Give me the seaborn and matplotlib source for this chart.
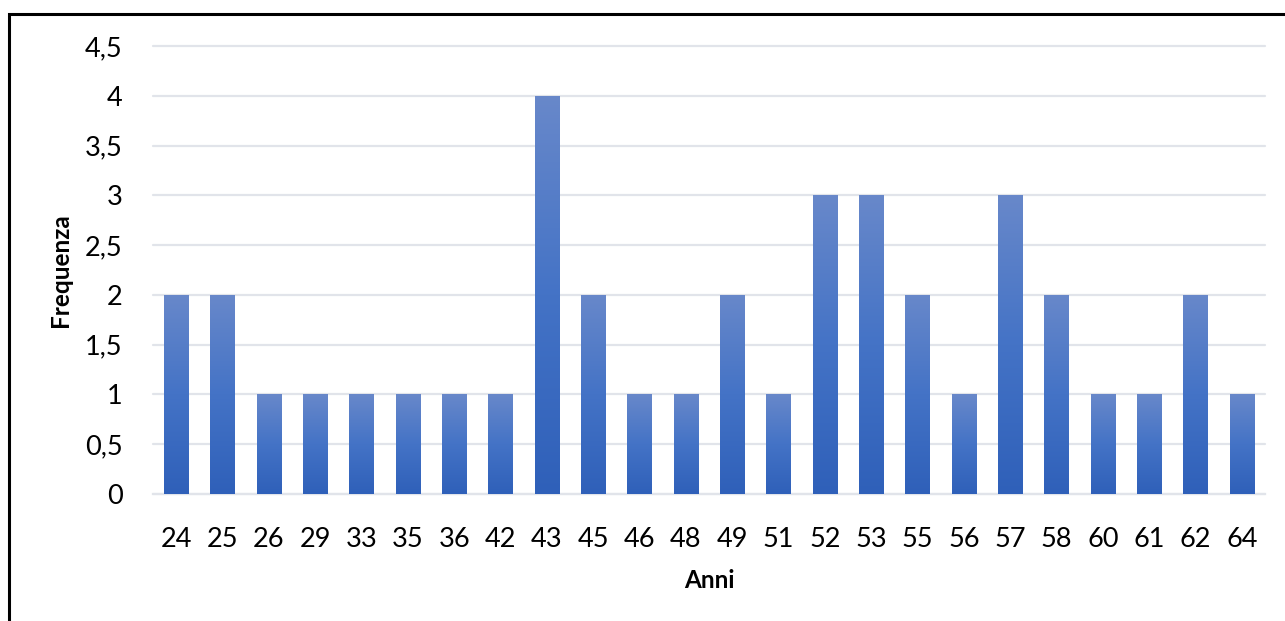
import numpy as np
import pandas as pd
import matplotlib
matplotlib.use("Agg")
import matplotlib.pyplot as plt
from matplotlib.colors import LinearSegmentedColormap
from matplotlib.patches import Rectangle
from matplotlib.ticker import FuncFormatter, MultipleLocator
import seaborn as sns

# Age values and how often each occurs
anni = ["24", "25", "26", "29", "33", "35", "36", "42", "43", "45", "46", "48",
        "49", "51", "52", "53", "55", "56", "57", "58", "60", "61", "62", "64"]
frequenza = [2, 2, 1, 1, 1, 1, 1, 1, 4, 2, 1, 1,
             2, 1, 3, 3, 2, 1, 3, 2, 1, 1, 2, 1]

df = pd.DataFrame({"Anni": anni, "Frequenza": frequenza})

sns.set_theme(style="white")
plt.rcParams["font.family"] = ["Lato", "DejaVu Sans"]

fig = plt.figure(figsize=(12.85, 6.21), dpi=100)
ax = fig.add_axes([153 / 1285, 127 / 621, 1112 / 1285, 448 / 621])

sns.barplot(data=df, x="Anni", y="Frequenza", color="#4472c4",
            width=0.53, ax=ax, zorder=3)

# Vertical gradient fill for each bar (lighter at the top, darker at the base)
grad = LinearSegmentedColormap.from_list(
    "bar_grad", ["#2f60b9", "#4473c6", "#6888ca"])
gimg = np.linspace(0, 1, 256).reshape(-1, 1)
for p in ax.patches:
    x0, y0 = p.get_x(), p.get_y()
    w, h = p.get_width(), p.get_height()
    p.set_facecolor("none")
    p.set_edgecolor("none")
    im = ax.imshow(gimg, cmap=grad, aspect="auto", origin="lower",
                   extent=[x0, x0 + w, y0, y0 + h], zorder=3)
    im.set_clip_path(p)

ax.set_ylim(0, 4.5)
ax.set_xlim(-0.5, len(anni) - 0.5)

ax.yaxis.set_major_locator(MultipleLocator(0.5))
ax.yaxis.set_major_formatter(
    FuncFormatter(lambda v, _: f"{v:g}".replace(".", ",")))
ax.grid(axis="y", color="#e1e4ea", linewidth=1.6, zorder=0)
for gl in ax.get_ygridlines():
    gl.set_clip_on(False)
ax.grid(axis="x", visible=False)

for s in ["top", "right", "left"]:
    ax.spines[s].set_visible(False)
ax.spines["bottom"].set_color("#e1e4ea")
ax.spines["bottom"].set_linewidth(1.6)

ax.tick_params(axis="y", length=0, pad=22, labelsize=19.5, labelcolor="black")
ax.tick_params(axis="x", length=0, pad=24, labelsize=19.5, labelcolor="black")

ax.set_xlabel("Anni", fontsize=17.5, fontweight="bold", color="black", va="center")
ax.set_ylabel("Frequenza", fontsize=17.5, fontweight="bold", color="black", va="center")
ax.xaxis.set_label_coords(0.5, (494 - 580) / 448)
ax.yaxis.set_label_coords((60 - 153) / 1112, 0.5)

# Black frame around the chart area
fig.patches.append(Rectangle((9 / 1285, -0.1), 1.2, 0.1 + (621 - 14) / 621,
                             transform=fig.transFigure, fill=False,
                             edgecolor="black", linewidth=2.2, zorder=10))

fig.savefig("out.png", dpi=100, facecolor="white")
